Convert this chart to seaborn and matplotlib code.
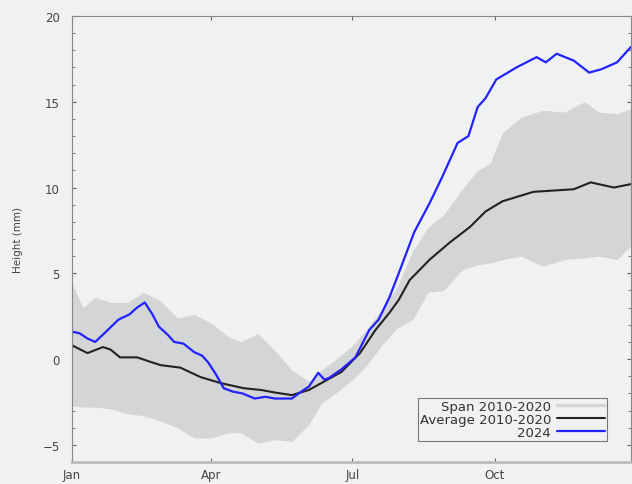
import numpy as np
import pandas as pd
import matplotlib
matplotlib.use("Agg")
import matplotlib.pyplot as plt
import seaborn as sns
from matplotlib.ticker import MultipleLocator
from matplotlib.lines import Line2D

# day of year readings
days_2024 = [0, 5, 10, 15, 22, 30, 37, 42, 47, 52, 56, 62, 66, 72, 79, 84, 88, 93, 98, 104,
             110, 118, 125, 131, 137, 142, 148, 153, 159, 163, 166, 174, 183, 192, 198, 205,
             211, 221, 231, 239, 249, 256, 262, 267, 274, 287, 300, 306, 313, 324, 334, 342,
             352, 361]
vals_2024 = [1.6, 1.5, 1.2, 1.0, 1.6, 2.3, 2.6, 3.0, 3.3, 2.6, 1.9, 1.4, 1.0, 0.9, 0.4, 0.2,
             -0.2, -0.9, -1.7, -1.9, -2.0, -2.3, -2.2, -2.3, -2.3, -2.3, -1.9, -1.6, -0.8, -1.2,
             -1.1, -0.6, 0.1, 1.7, 2.3, 3.6, 5.0, 7.4, 9.1, 10.6, 12.6, 13.0, 14.7, 15.2, 16.3,
             17.0, 17.6, 17.3, 17.8, 17.4, 16.7, 16.9, 17.3, 18.2]

days_avg = [0, 10, 20, 25, 31, 42, 57, 70, 83, 96, 111, 122, 131, 142, 153, 163, 174, 186,
            196, 205, 211, 218, 231, 244, 257, 267, 278, 298, 324, 335, 350, 361]
vals_avg = [0.8, 0.35, 0.7, 0.55, 0.1, 0.1, -0.35, -0.5, -1.05, -1.4, -1.7, -1.8, -1.95, -2.1,
            -1.8, -1.3, -0.75, 0.35, 1.7, 2.7, 3.45, 4.6, 5.8, 6.8, 7.7, 8.6, 9.2, 9.75, 9.9,
            10.3, 10.0, 10.2]

days_span = [0, 7, 15, 25, 36, 46, 57, 68, 79, 90, 101, 109, 120, 131, 142, 153, 161, 170,
             180, 190, 200, 210, 220, 230, 240, 252, 262, 270, 278, 290, 304, 318, 331, 340,
             352, 361]
span_upper = [4.4, 3.0, 3.6, 3.3, 3.3, 3.9, 3.4, 2.4, 2.6, 2.1, 1.3, 1.0, 1.5, 0.5, -0.65,
              -1.3, -0.65, -0.05, 0.7, 1.7, 2.9, 4.2, 6.3, 7.7, 8.4, 9.9, 11.0, 11.4, 13.2,
              14.1, 14.5, 14.4, 15.0, 14.4, 14.3, 14.6]
span_lower = [-2.7, -2.8, -2.8, -2.9, -3.2, -3.3, -3.6, -4.0, -4.6, -4.6, -4.3, -4.3, -4.9,
              -4.7, -4.8, -3.8, -2.6, -2.0, -1.3, -0.4, 0.8, 1.8, 2.3, 3.9, 4.0, 5.2, 5.5,
              5.6, 5.8, 6.0, 5.4, 5.8, 5.9, 6.0, 5.8, 6.6]

month_ticks = [0, 90, 181, 273]
month_labels = ["Jan", "Apr", "Jul", "Oct"]

bg = "#f0f1f3"
sns.set_style("ticks", {"axes.facecolor": bg, "figure.facecolor": bg})
plt.rcParams["font.family"] = ["DejaVu Sans"]

fig = plt.figure(figsize=(6.32, 4.85), dpi=100)
ax = fig.add_axes([72 / 632, 22 / 485, 559 / 632, 446 / 485])

ax.fill_between(days_span, span_lower, span_upper, color="#d4d5d7", lw=0)
avg = pd.DataFrame({"day": days_avg, "h": vals_avg})
cur = pd.DataFrame({"day": days_2024, "h": vals_2024})
sns.lineplot(data=avg, x="day", y="h", ax=ax, color="#222222", lw=1.5)
sns.lineplot(data=cur, x="day", y="h", ax=ax, color="#2222ff", lw=1.6)

ax.set_xlim(0, 361)
ax.set_ylim(-6, 20)
ax.set_xticks(month_ticks)
ax.set_xticklabels(month_labels)
ax.yaxis.set_major_locator(MultipleLocator(5))
ax.yaxis.set_minor_locator(MultipleLocator(1))
ax.tick_params(axis="both", which="both", direction="in", top=True, right=True,
               labelsize=8.5, labelcolor="#444444", color="#666666")
ax.tick_params(axis="both", which="major", length=3)
ax.tick_params(axis="both", which="minor", length=2)
ax.tick_params(axis="x", pad=4)
ax.tick_params(axis="y", pad=9)
for s in ax.spines.values():
    s.set_color("#888888")
    s.set_linewidth(0.8)
ax.spines["bottom"].set_color("#bbbbbb")
ax.spines["bottom"].set_linewidth(2)

ax.set_xlabel("")
ax.set_ylabel("Height (mm)", fontsize=7.5, color="#444444", labelpad=14)

handles = [Line2D([], [], color="#d4d5d7", lw=2.5),
           Line2D([], [], color="#222222", lw=1.5),
           Line2D([], [], color="#2222ff", lw=1.6)]
leg = ax.legend(handles, ["Span 2010-2020", "Average 2010-2020", "2024"],
                loc="lower right", bbox_to_anchor=(0.957, 0.048), markerfirst=False,
                fontsize=9.5, frameon=True, fancybox=False, framealpha=1,
                handlelength=3.6, borderpad=0.15, labelspacing=0.0, handletextpad=0.5,
                borderaxespad=0)
leg.get_frame().set_edgecolor("#777777")
leg.get_frame().set_facecolor(bg)
leg.get_frame().set_linewidth(0.8)
for t in leg.get_texts():
    t.set_color("#333333")

fig.savefig("out.png", dpi=100, facecolor=bg)
